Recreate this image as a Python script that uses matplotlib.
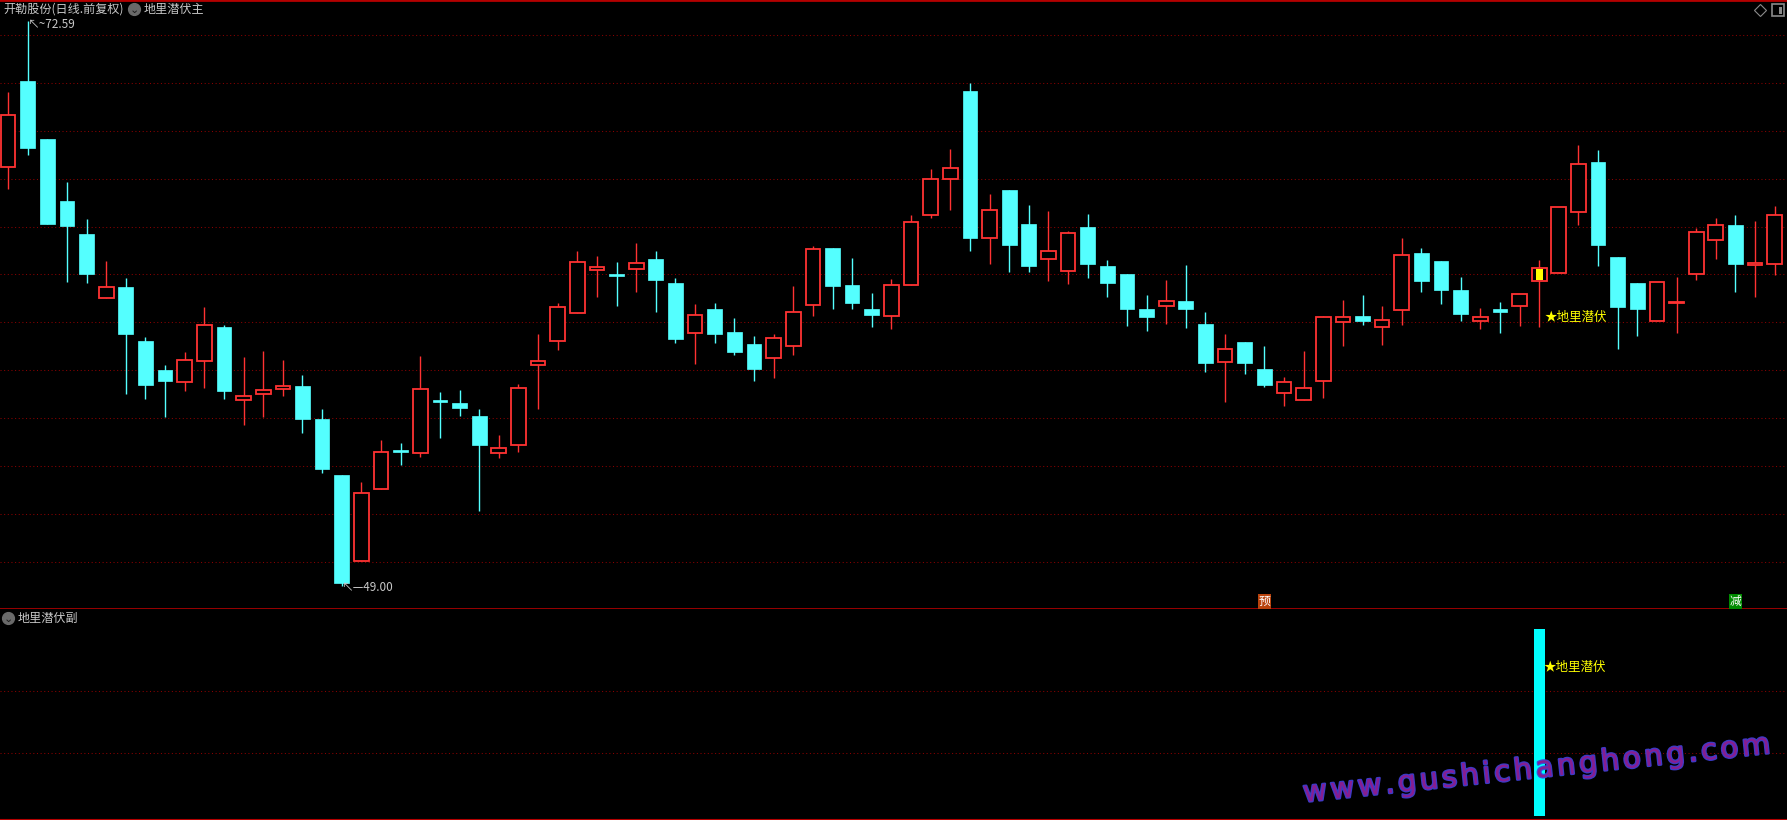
import math
import matplotlib
matplotlib.use("Agg")
import matplotlib.pyplot as plt
from matplotlib.patches import Rectangle
from matplotlib.lines import Line2D
from matplotlib.font_manager import FontProperties
import matplotlib.patheffects as pe

plt.rcParams['font.family'] = ['Noto Sans CJK SC', 'DejaVu Sans']

# daily candles
opens = [66.49, 70.08, 67.67, 65.08, 63.69, 61.01, 61.49, 59.24, 58.02, 57.50,
         58.37, 59.81, 56.74, 57.00, 57.21, 57.32, 55.98, 53.60, 50.04, 53.04,
         54.63, 54.53, 56.70, 56.64, 56.10, 54.53, 54.88, 58.21, 59.21, 60.38,
         62.17, 62.04, 62.21, 62.64, 61.64, 59.57, 60.56, 59.60, 59.10, 58.53,
         59.00, 60.74, 63.10, 61.56, 60.56, 60.25, 61.57, 64.50, 66.00, 69.68,
         63.53, 65.51, 64.10, 62.63, 62.13, 63.97, 62.35, 62.01, 60.56, 60.67,
         60.89, 59.93, 58.36, 59.18, 58.06, 57.04, 56.74, 57.54, 60.03, 60.26,
         59.82, 60.53, 62.89, 62.56, 61.35, 60.04, 60.54, 60.69, 61.74, 62.07,
         64.63, 66.68, 62.72, 61.64, 60.04, 60.79, 62.03, 63.42, 64.08, 62.40,
         62.44]
highs = [69.64, 72.59, 67.67, 65.87, 64.33, 62.56, 61.86, 59.38, 58.20, 58.77,
         60.66, 59.89, 58.57, 58.82, 58.44, 57.81, 56.36, 53.60, 53.33, 55.08,
         54.96, 58.60, 57.08, 57.18, 56.39, 55.31, 57.43, 59.51, 60.81, 62.97,
         62.76, 62.51, 63.31, 62.97, 61.85, 60.76, 60.81, 60.18, 59.43, 59.51,
         61.51, 63.18, 63.10, 62.68, 61.22, 61.81, 64.49, 66.39, 67.26, 70.01,
         65.35, 65.51, 64.89, 64.64, 63.81, 64.51, 62.60, 62.01, 61.14, 61.76,
         62.39, 60.43, 59.51, 59.18, 59.01, 57.72, 58.80, 60.26, 60.93, 61.14,
         60.68, 63.51, 63.10, 62.56, 61.89, 60.60, 60.85, 61.18, 62.60, 64.83,
         67.43, 67.22, 62.72, 61.64, 61.67, 61.89, 63.93, 64.35, 64.50, 64.22,
         64.85]
lows = [65.59, 67.00, 64.10, 61.70, 61.65, 61.01, 57.02, 56.78, 56.06, 57.11,
        57.27, 56.81, 55.71, 56.03, 56.94, 55.39, 53.69, 49.00, 50.04, 53.04,
        54.03, 54.36, 55.15, 56.07, 52.11, 54.33, 54.58, 56.36, 58.86, 60.38,
        61.07, 60.69, 61.28, 60.44, 59.15, 58.24, 59.14, 58.65, 57.56, 57.68,
        58.65, 60.28, 60.56, 60.56, 59.82, 59.74, 61.57, 64.36, 64.68, 62.99,
        62.44, 62.11, 62.11, 61.74, 61.60, 61.86, 61.07, 59.86, 59.65, 59.93,
        59.78, 57.94, 56.65, 57.86, 57.28, 56.49, 56.74, 56.85, 59.03, 59.90,
        59.07, 59.90, 61.28, 60.78, 60.07, 59.74, 59.57, 59.86, 59.82, 62.07,
        64.07, 62.36, 58.90, 59.44, 60.04, 59.57, 61.78, 62.65, 61.28, 61.07,
        61.96]
closes = [68.66, 67.30, 64.12, 64.04, 62.03, 61.47, 59.52, 57.37, 57.53, 58.41,
          59.89, 57.14, 56.92, 57.19, 57.32, 55.98, 53.85, 49.09, 52.85, 54.58,
          54.60, 57.21, 56.68, 56.40, 54.86, 54.76, 57.25, 58.38, 60.63, 62.54,
          62.33, 61.94, 62.50, 61.78, 59.32, 60.31, 59.53, 58.76, 58.06, 59.33,
          60.42, 63.08, 61.51, 60.81, 60.31, 61.58, 64.21, 66.00, 66.46, 63.53,
          64.71, 63.24, 62.36, 63.00, 63.72, 62.44, 61.65, 60.57, 60.24, 60.88,
          60.57, 58.32, 58.88, 58.28, 57.40, 57.50, 57.25, 60.21, 60.21, 60.07,
          60.08, 62.83, 61.74, 61.36, 60.36, 60.21, 60.44, 61.18, 62.25, 64.83,
          66.63, 63.24, 60.65, 60.57, 61.67, 60.81, 63.79, 64.08, 62.44, 62.46,
          64.50]

signal_idx = 78          # 地里潜伏 signal day
signal_value = 3.0       # sub-panel bar height
yu_idx = 64              # 预 marker
jian_idx = 88            # 减 marker

price_grid = list(range(50, 73, 2))
sub_grid = [1, 2]

BG = '#000000'
UP = '#ff3232'
DOWN = '#54ffff'
GRID = '#8a0000'
SEP = '#b40000'
TXT = '#c8c8c8'

W, H = 1787, 820
fig = plt.figure(figsize=(W / 100 + 0.001, H / 100 + 0.001), dpi=100, facecolor=BG)
split = (H - 609.5) / H
ax = fig.add_axes([0, split, 1, 1 - split], facecolor=BG)
ax2 = fig.add_axes([0, 0, 1, split], facecolor=BG)

n = len(opens)
for a in (ax, ax2):
    a.set_xlim(-0.41, n - 0.37)
    a.set_xticks([])
    a.set_yticks([])
    for s in ('left', 'right'):
        a.spines[s].set_visible(False)
ax.set_ylim(48.0, 73.475)
ax2.set_ylim(-0.07, 3.31)
ax.spines['top'].set_color(SEP)
ax.spines['top'].set_linewidth(2)
ax.spines['bottom'].set_color(SEP)
ax.spines['bottom'].set_linewidth(1.2)
ax2.spines['top'].set_visible(False)
ax2.spines['bottom'].set_color(SEP)
ax2.spines['bottom'].set_linewidth(1.5)

for g in price_grid:
    ax.axhline(g, color=GRID, lw=0.75, ls=(0, (1, 2.5)), zorder=0)
for g in sub_grid:
    ax2.axhline(g, color=GRID, lw=0.75, ls=(0, (1, 2.5)), zorder=0)

bw = 0.75
for i in range(n):
    o, h, l, c = opens[i], highs[i], lows[i], closes[i]
    up = c >= o
    col = UP if up else DOWN
    ax.plot([i, i], [l, h], color=col, lw=1.0, zorder=1, solid_capstyle='butt')
    lo, hi = min(o, c), max(o, c)
    ht = max(hi - lo, 0.06)
    if up:
        ax.add_patch(Rectangle((i - bw / 2, lo), bw, ht, facecolor=BG,
                               edgecolor=UP, lw=1.3, zorder=2))
    else:
        ax.add_patch(Rectangle((i - bw / 2, lo), bw, ht, facecolor=DOWN,
                               edgecolor=DOWN, lw=0.5, zorder=2))
    if i == signal_idx:
        ax.add_patch(Rectangle((i - 0.18, lo + 0.04), 0.36, ht - 0.08,
                               facecolor='#ffff00', edgecolor='none', zorder=3))

# signal text on the main chart
ax.text(signal_idx + 0.25, 60.2, '★地里潜伏', color='#ffff00', fontsize=9,
        ha='left', va='center', zorder=4)

# extreme price labels
ax.text(1.0, 72.45, '↖~72.59', color=TXT, fontsize=8.5, ha='left', va='center')
ax.text(17.0, 48.94, '↖—49.00', color=TXT, fontsize=8.5, ha='left', va='center')

# 预 / 减 markers
ax.text(yu_idx, 48.34, '预', color='#ffffff', fontsize=8.5, ha='center',
        va='center', bbox=dict(boxstyle='square,pad=0.08', fc='#b8420c', ec='none'))
ax.text(jian_idx, 48.34, '减', color='#ffffff', fontsize=8.5, ha='center',
        va='center', bbox=dict(boxstyle='square,pad=0.08', fc='#008a00', ec='none'))

# sub-panel bar
ax2.bar([signal_idx], [signal_value], width=0.56, color='#00ffff', zorder=2)
ax2.text(signal_idx + 0.23, 2.385, '★地里潜伏', color='#ffff00', fontsize=9,
         ha='left', va='center', zorder=4)


def fx(px):
    return px / W


def fy(py):
    return 1 - py / H


# headers
fig.text(fx(3), fy(9.5), '开勒股份(日线.前复权)', color=TXT, fontsize=8.7,
         ha='left', va='center')
fig.add_artist(Line2D([fx(134)], [fy(9.5)], marker='o', markersize=8.5,
                      color='#6a6a6a', transform=fig.transFigure))
fig.text(fx(134), fy(10), '⌄', color='#1a1a1a', fontsize=8, ha='center',
         va='center', family='DejaVu Sans')
fig.text(fx(144), fy(9.5), '地里潜伏主', color=TXT, fontsize=8.7,
         ha='left', va='center')

fig.add_artist(Line2D([fx(8)], [fy(618.5)], marker='o', markersize=8.5,
                      color='#6a6a6a', transform=fig.transFigure))
fig.text(fx(8), fy(619), '⌄', color='#1a1a1a', fontsize=8, ha='center',
         va='center', family='DejaVu Sans')
fig.text(fx(18), fy(618.5), '地里潜伏副', color=TXT, fontsize=8.7,
         ha='left', va='center')

# top-right icons
fig.add_artist(Line2D([fx(1759.5)], [fy(10.5)], marker='D', markersize=6.5,
                      markerfacecolor='none', markeredgecolor='#8a8a8a',
                      markeredgewidth=0.8, transform=fig.transFigure))
fig.add_artist(Line2D([fx(1778)], [fy(10.5)], marker='s', markersize=8,
                      markerfacecolor='none', markeredgecolor='#8a8a8a',
                      markeredgewidth=1.2, transform=fig.transFigure))
fig.add_artist(Rectangle((fx(1779), fy(14)), fx(3), 7 / H,
                         facecolor='#8a8a8a', transform=fig.transFigure))

# watermark, letter-spaced along a slanted baseline
wm = 'www.gushichanghong.com'
wm_prop = FontProperties(family='DejaVu Sans', size=21)
renderer = fig.canvas.get_renderer()
widths = [renderer.get_text_width_height_descent(ch, wm_prop, ismath=False)[0]
          for ch in wm]
x0, y0, x1, y1 = 1304, 802, 1771, 753
ang = math.atan2(y0 - y1, x1 - x0)
length = math.hypot(x1 - x0, y0 - y1)
gap = (length - sum(widths)) / (len(wm) - 1)
pos = 0.0
for ch, w in zip(wm, widths):
    px = x0 + pos * math.cos(ang)
    py = y0 - pos * math.sin(ang)
    fig.text(fx(px), fy(py), ch, color='#8c1c8c', fontproperties=wm_prop,
             rotation=math.degrees(ang), rotation_mode='anchor', ha='left',
             va='baseline', alpha=0.92,
             path_effects=[pe.withStroke(linewidth=1.8, foreground='#4040d8')])
    pos += w + gap

fig.savefig('out.png', dpi=100, facecolor=BG)
